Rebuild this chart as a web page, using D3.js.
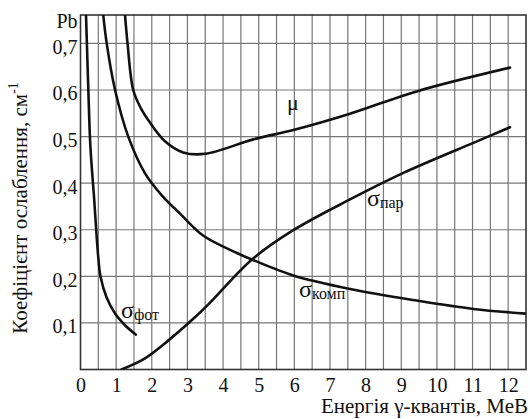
<!DOCTYPE html>
<html>
<head>
<meta charset="utf-8">
<script src="https://cdn.jsdelivr.net/npm/d3@7"></script>
</head>
<body style="margin:0">
<svg id="chart" width="530" height="419"></svg>
<script>
// energy, MeV
const energyTicks = [0, 1, 2, 3, 4, 5, 6, 7, 8, 9, 10, 11, 12];
const coefTicks = [0.1, 0.2, 0.3, 0.4, 0.5, 0.6, 0.7];

// mu (total)
const muEnergy = [1.25, 1.32, 1.48, 1.7, 1.95, 2.37, 2.88, 3.5, 4.85, 5.97, 7.56, 9.43, 12.05];
const muValue = [0.76, 0.70, 0.60, 0.56, 0.53, 0.49, 0.466, 0.463, 0.494, 0.514, 0.549, 0.597, 0.648];

// photo effect
const photEnergy = [0.155, 0.22, 0.27, 0.32, 0.38, 0.44, 0.5, 0.56, 0.73, 0.97, 1.25, 1.55];
const photValue = [0.76, 0.60, 0.49, 0.43, 0.37, 0.30, 0.24, 0.20, 0.155, 0.12, 0.095, 0.075];

// compton
const compEnergy = [0.64, 0.735, 0.97, 1.34, 1.82, 2.28, 2.8, 3.45, 4.39, 4.81, 5.97, 7.56, 9.43, 11.02, 12.5];
const compValue = [0.76, 0.70, 0.60, 0.50, 0.42, 0.374, 0.334, 0.287, 0.25, 0.236, 0.202, 0.173, 0.148, 0.13, 0.12];

// pair production
const pairEnergy = [1.15, 1.81, 2.46, 3.21, 3.63, 4.81, 5.97, 7.56, 9.06, 11.04, 12.05];
const pairValue = [0, 0.024, 0.062, 0.112, 0.143, 0.236, 0.299, 0.365, 0.422, 0.487, 0.52];

const fontNames = ['Liberation Serif'];
const fontFor = (d) => `"${fontNames[0]}", monospace`;

const svg = d3.select('#chart');
svg.style('font-family', fontFor);

const x = d3.scaleLinear().domain([0, 12.5]).range([80.5, 526]);
const y = d3.scaleLinear().domain([0, 0.761]).range([369.5, 15]);

const toPoints = function(xs, ys)
{
	return xs.map((e, i) => ({x: e, y: ys[i]}));
};

// grid
const gridColor = '#777';
svg.append('g')
	.selectAll('line')
	.data(d3.range(0.5, 12.5, 0.5))
	.join('line')
	.attr('x1', (d) => x(d)).attr('x2', (d) => x(d))
	.attr('y1', y(0)).attr('y2', y(0.761))
	.attr('stroke', gridColor)
	.attr('stroke-width', 1.2);

svg.append('g')
	.selectAll('line')
	.data(coefTicks)
	.join('line')
	.attr('x1', x(0)).attr('x2', x(12.5))
	.attr('y1', (d) => y(d)).attr('y2', (d) => y(d))
	.attr('stroke', gridColor)
	.attr('stroke-width', 1.2);

svg.append('rect')
	.attr('x', x(0)).attr('y', y(0.761))
	.attr('width', x(12.5) - x(0))
	.attr('height', y(0) - y(0.761))
	.attr('fill', 'none')
	.attr('stroke', '#333')
	.attr('stroke-width', 1.6);

// axes (labels only)
const xAxis = d3.axisBottom(x)
	.tickValues(energyTicks)
	.tickSize(0)
	.tickPadding(0)
	.tickFormat(d3.format('d'));

const xg = svg.append('g')
	.attr('transform', `translate(0,${y(0)})`)
	.call(xAxis);
xg.attr('font-family', null);
xg.select('.domain').remove();
xg.selectAll('text')
	.attr('dy', null)
	.attr('y', 22)
	.attr('font-size', 20)
	.style('font-family', fontFor)
	.attr('fill', '#111');

const yAxis = d3.axisLeft(y)
	.tickValues(coefTicks)
	.tickSize(0)
	.tickPadding(3)
	.tickFormat((d) => d3.format('.1f')(d).replace('.', ','));

const yg = svg.append('g')
	.attr('transform', `translate(${x(0)},0)`)
	.call(yAxis);
yg.attr('font-family', null);
yg.select('.domain').remove();
yg.selectAll('text')
	.attr('dy', null)
	.attr('y', 10)
	.attr('font-size', 20)
	.style('font-family', fontFor)
	.attr('fill', '#111');

svg.append('text')
	.attr('x', x(0) - 3)
	.attr('y', 28)
	.attr('text-anchor', 'end')
	.attr('font-size', 20)
	.style('font-family', fontFor)
	.attr('fill', '#111')
	.text('Pb');

// axis titles
svg.append('text')
	.attr('x', 528)
	.attr('y', 413)
	.attr('text-anchor', 'end')
	.attr('font-size', 21)
	.style('font-family', fontFor)
	.attr('fill', '#111')
	.text('Енергія γ-квантів, МеВ');

const yTitle = svg.append('text')
	.attr('transform', 'translate(27,208) rotate(-90)')
	.attr('text-anchor', 'middle')
	.attr('font-size', 21)
	.style('font-family', fontFor)
	.attr('fill', '#111');
yTitle.append('tspan').text('Коефіцієнт ослаблення, см');
yTitle.append('tspan').attr('font-size', 14).attr('dy', -9).text('-1');

// curves
const line = d3.line()
	.x((d) => x(d.x))
	.y((d) => y(d.y))
	.curve(d3.curveCatmullRom.alpha(0.5));

const curves = [
	toPoints(muEnergy, muValue),
	toPoints(photEnergy, photValue),
	toPoints(compEnergy, compValue),
	toPoints(pairEnergy, pairValue)
];

svg.append('defs').append('clipPath').attr('id', 'plotClip')
	.append('rect')
	.attr('x', x(0)).attr('y', y(0.761))
	.attr('width', x(12.5) - x(0))
	.attr('height', y(0) - y(0.761));

svg.append('g')
	.attr('clip-path', 'url(#plotClip)')
	.selectAll('path')
	.data(curves)
	.join('path')
	.attr('d', line)
	.attr('fill', 'none')
	.attr('stroke', '#111')
	.attr('stroke-width', 2.6)
	.attr('stroke-linecap', 'round');

// curve labels
const addSigma = function(px, py, sub)
{
	const t = svg.append('text')
		.attr('x', px)
		.attr('y', py)
		.style('font-family', fontFor)
		.attr('fill', '#111');
	t.append('tspan').attr('font-size', 24).text('σ');
	t.append('tspan').attr('font-size', 16).attr('dy', 2).text(sub);
};

addSigma(121, 318, 'фот');
addSigma(299, 297, 'комп');
addSigma(367, 206, 'пар');

svg.append('text')
	.attr('x', 287)
	.attr('y', 110)
	.attr('font-size', 22)
	.style('font-family', fontFor)
	.attr('fill', '#111')
	.text('μ');
</script>
</body>
</html>
